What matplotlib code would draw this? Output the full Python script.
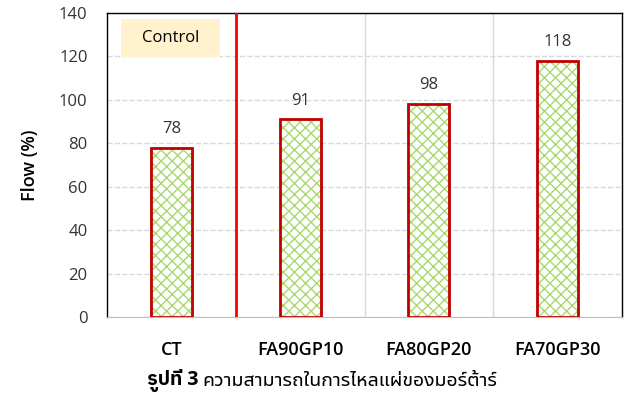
import matplotlib.pyplot as plt
from matplotlib.patches import Rectangle

categories = ["CT", "FA90GP10", "FA80GP20", "FA70GP30"]
flow = [78, 91, 98, 118]
yticks = [0, 20, 40, 60, 80, 100, 120, 140]

plt.rcParams['font.family'] = ['Open Sans', 'Noto Sans Thai UI', 'DejaVu Sans']
plt.rcParams['hatch.linewidth'] = 1.0

fig = plt.figure(figsize=(6.24, 3.94), dpi=100)
ax = fig.add_axes([107/624, 1-317/394, 515/624, 304/394])

x = list(range(len(categories)))
# ลายตาข่ายสีเขียว แล้วขอบแดงทับ
ax.bar(x, flow, width=0.32, facecolor='white', edgecolor='#A9D86E',
       linewidth=0, hatch='xxx', zorder=3)
ax.bar(x, flow, width=0.32, facecolor='none', edgecolor='#C00000',
       linewidth=2, zorder=4)
for i, v in enumerate(flow):
    ax.text(i, v + 5, str(v), ha='center', va='bottom', fontsize=12, color='#333333')

ax.set_xlim(-0.5, len(categories) - 0.5)
ax.set_ylim(0, 140)
ax.set_yticks(yticks)
ax.set_xticks(x)
ax.set_xticklabels(categories, fontweight='semibold', fontsize=13)
ax.tick_params(axis='x', length=0, pad=17)
ax.tick_params(axis='y', length=0, labelsize=12, labelcolor='#333333', pad=14)
ax.yaxis.grid(True, linestyle='--', color='#D9D9D9', linewidth=1)
for b in [1.5, 2.5]:
    ax.axvline(b, color='#D9D9D9', linewidth=1)
ax.axvline(0.5, color='#FF0000', linewidth=2, zorder=5)
ax.set_ylabel("Flow (%)", fontweight='semibold', fontsize=13, labelpad=14)

for s in ['top', 'left', 'right']:
    ax.spines[s].set_color('black')
    ax.spines[s].set_linewidth(1)
ax.spines['bottom'].set_color('#BFBFBF')

ax.add_patch(Rectangle((0.027, 0.855), 0.192, 0.125, transform=ax.transAxes,
                       facecolor='#FFF2CC', edgecolor='none', zorder=2))
ax.text(0.123, 0.917, "Control", transform=ax.transAxes, ha='center', va='center',
        fontsize=12, zorder=6)

# คำบรรยายภาพ
y_cap = 1 - 381/394
t1 = fig.text(147/624, y_cap, "รูปที่ 3", fontweight='bold', fontsize=14, va='center',
              family=['Open Sans', 'IBM Plex Sans Thai', 'Bai Jamjuree', 'DejaVu Sans'])
fig.canvas.draw()
bb = t1.get_window_extent()
fig.text((bb.x1 + 4) / fig.bbox.width, y_cap, "ความสามารถในการไหลแผ่ของมอร์ต้าร์",
         fontsize=14, va='center', family=['Noto Sans Thai UI', 'DejaVu Sans'])

fig.savefig("out.png", dpi=100)
